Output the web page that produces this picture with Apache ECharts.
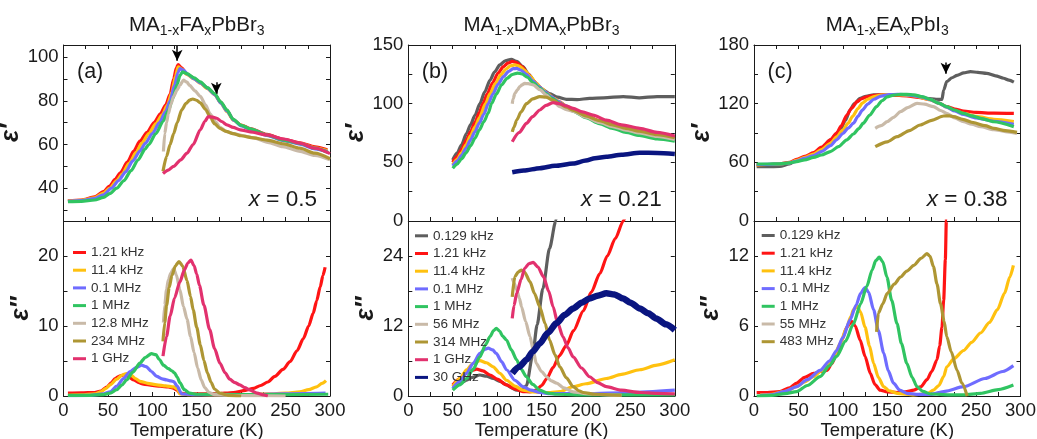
<!DOCTYPE html>
<html><head><meta charset="utf-8">
<script src="https://cdn.jsdelivr.net/npm/echarts@6/dist/echarts.min.js"></script>
<style>html,body{margin:0;padding:0;background:#fff}#c{width:1037px;height:439px}</style>
</head><body><div id="c"></div>
<script>
// ---------------- axes ticks / labels ----------------
const T_TICKS = [0,25,50,75,100,125,150,175,200,225,250,275,300];
const T_LABELS = [0,50,100,150,200,250,300];
const aReTicks = [30,40,50,60,70,80,90,100], aReLabels = [40,60,80,100];
const aImTicks = [0,5,10,15,20,25], aImLabels = [0,10,20];
const bReTicks = [0,25,50,75,100,125,150], bReLabels = [0,50,100,150];
const bImTicks = [0,6,12,18,24,30], bImLabels = [0,12,24];
const cReTicks = [0,30,60,90,120,150,180], cReLabels = [0,60,120,180];
const cImTicks = [0,3,6,9,12,15], cImLabels = [0,6,12];

// ---------------- panel (a) MA1-xFAxPbBr3 ----------------
const aRe_121kHz = [[5,34.2],[20,34.6],[35,36],[45,38.5],[52,41],[58,44],[64,47],[72,52],[79,57],[86,61.5],[94,65.5],[102,70],[109,74],[115,78],[120,83],[124,90],[127,95],[129,96.5],[133,95],[139,92.2],[147,90.2],[154,88.2],[162,85.8],[170,83],[177,79.3],[184,75.5],[191,71.3],[200,68.9],[210,67.3],[229,64.6],[248,62.3],[266,60.8],[283,58.9],[297,57.6]];
const aRe_114kHz = [[5,34.1],[20,34.5],[35,35.6],[45,37.8],[52,40],[60,43.5],[66,46.5],[74,51.5],[82,56.5],[88,60.5],[96,65],[104,69.5],[111,73.5],[117,78],[122,84],[126,91],[129,95.5],[133,94.5],[139,92],[147,90],[154,88],[162,85.5],[170,83],[177,79],[184,75],[192,71],[200,68.8],[210,67],[229,64.3],[248,62],[266,60.5],[283,58.5],[297,57.2]];
const aRe_01MHz = [[5,34],[20,34.3],[35,35.2],[45,37],[54,40],[62,43.5],[70,47.5],[78,52.5],[86,57],[92,60.5],[100,65],[108,70],[115,75],[120,80],[125,87],[129,93],[131,94.7],[135,94],[140,92],[147,90],[154,88.2],[162,85.8],[170,83],[177,79],[184,75.3],[192,71],[200,68.5],[210,67],[229,64.2],[248,61.8],[266,60.2],[283,58],[297,56.8]];
const aRe_1MHz = [[5,33.8],[20,34],[35,34.6],[45,35.8],[52,37.5],[60,40],[68,43.5],[76,48],[84,53],[92,58],[96,60],[104,65],[112,70.5],[118,75.5],[123,81],[128,87.5],[131,91.5],[134,93.2],[139,92.4],[147,90.5],[154,88.6],[162,86],[170,83.3],[177,79.5],[184,75.8],[191,71.5],[200,68.8],[210,67.2],[229,64.4],[248,62],[266,60.5],[283,58.3],[298,56.3]];
const aRe_128MHz = [[112.5,56.8],[114,65],[116,70],[118,74],[121,78.5],[124,82],[128,85],[131,87],[135,89.4],[139,88.5],[142,87],[148,84.5],[154,82],[160,78],[165,74],[171,70.5],[176,68],[183,66],[191,65],[202,64],[214,63],[230,61],[247,59],[265,57],[283,55],[300,53]];
const aRe_234MHz = [[112,47.7],[116,54.5],[120,60],[124,65],[128,70],[133,75.8],[138,78.8],[142,80.3],[145.5,80.8],[150,80.2],[154,79],[160,76],[165,72.7],[170,69.5],[176,67.4],[183,66],[191,65],[200,64],[214,63],[229,62],[248,60.3],[266,58.3],[283,56],[300,53.5]];
const aRe_1GHz = [[112,46.7],[118,48.3],[124,50],[132,53],[139,56],[146,60],[154,66.7],[159,70.5],[163,72.7],[168,72.5],[172.5,72],[178,70.5],[184,69],[191,67.8],[199,66.7],[210,65.8],[229,64.4],[248,62.5],[266,60.6],[283,58.3],[300,55.8]];

const aIm_121kHz = [[5,0.4],[20,0.45],[35,0.5],[42,0.7],[49,1.3],[54,1.9],[58,2.5],[63,2.85],[67.5,3.0],[72,2.85],[79,2.3],[85,1.9],[90,1.7],[100,1.5],[109,1.4],[118,1.3],[124,1.1],[128,0.8],[131,0.4],[140,0.3],[160,0.3],[172,0.3],[191,0.5],[205,0.8],[214,1.1],[222,1.5],[230,2.0],[238,2.8],[247,3.8],[255,4.9],[263,6.5],[270,8.2],[276,10],[281,11.8],[285,13.6],[289,15.6],[292,17.2],[294.5,18.4]];
const aIm_114kHz = [[5,0.1],[20,0.15],[35,0.3],[42,0.6],[48,1.1],[52.5,1.6],[60,2.4],[66,3.0],[71,3.2],[76,3.0],[81,2.5],[86,2.1],[95,1.8],[105,1.6],[115,1.45],[124,1.3],[128,1.0],[131,0.3],[140,0.2],[170,0.15],[200,0.2],[230,0.3],[250,0.4],[266,0.6],[276,0.9],[285,1.3],[291,1.8],[295.5,2.2]];
const aIm_01MHz = [[5,0.05],[30,0.1],[45,0.3],[52.5,0.6],[60,1.4],[67.5,2.5],[75,3.5],[82,4.1],[88,4.4],[93,4.2],[99,3.5],[105,2.8],[111,2.45],[116,2.3],[121,2.15],[124,2.05],[128,1.4],[133,0.3],[145,0.2],[200,0.2],[250,0.3],[295,0.4]];
const aIm_1MHz = [[5,0.1],[30,0.1],[45,0.2],[52.5,0.4],[60,0.9],[66,1.6],[71,2.3],[78,3.4],[86,4.7],[92,5.5],[99,6.05],[104,5.9],[108,5.2],[112.5,4.4],[118,3.9],[122,3.6],[125,3.3],[128,2.7],[131,1.9],[136,0.9],[142,0.4],[150,0.25],[200,0.2],[250,0.2],[298,0.25]];
const aIm_128MHz = [[112.5,10.5],[114,13],[116,15.2],[118,16.6],[121,17.6],[124,18.2],[127,17.3],[131,15.2],[135,12.8],[139,11],[143,8.5],[147,6.2],[151,4.0],[155,2.3],[159,1.2],[164,0.5],[170,0.2],[185,0.1],[210,0.05],[250,0]];
const aIm_234MHz = [[112,7.8],[114,10.5],[116,12.9],[119,15.5],[122,17.2],[126,18.6],[130,19.2],[134,18.6],[139,16.5],[143,14.2],[146,12.3],[150,9.8],[154,7.3],[158,5.1],[162,3.3],[166,2.0],[170,1.0],[176,0.4],[185,0.1],[200,0]];
const aIm_1GHz = [[112,5.7],[116,8.5],[120,11.4],[125,14],[131,16.3],[136,18],[140,19],[143.5,19.4],[147,18.6],[150,17.4],[153,15.8],[158,13],[164.5,9.5],[170,6.8],[176,4.7],[182,3.3],[187,2.4],[193,1.9],[198.5,1.6],[204,1.2],[210,0.85],[218,0.4],[225,0.15],[230,0]];

// ---------------- panel (b) MA1-xDMAxPbBr3 ----------------
const bRe_0129kHz = [[50,52],[55,58],[60,65],[65.6,74.7],[70,82],[75,90],[80.6,100],[86,110],[92,120],[97,127],[103,133],[109,136.5],[116,137.8],[122,136],[129,131.5],[136,124.5],[144,117],[151,112],[159,108.5],[168,105.5],[178,103.7],[190,103.5],[204,104.5],[220,105],[242,106],[260,105],[280,106],[300,106]];
const bRe_121kHz = [[50,50],[55,55],[60,61],[65,68.5],[70,76],[75,84],[80,92.5],[84,100],[89,108.5],[95,118],[101,126],[107,131.5],[112,134.5],[117,136],[122,135],[128,131.5],[134,126],[141,119.5],[148,114],[155,109.5],[163,105],[170,101.5],[178,98],[186,94.6],[200,90],[215,85.5],[230,82],[245,79],[260,76.5],[280,73.5],[300,71]];
const bRe_114kHz = [[50,48],[55,52.5],[60,58],[65,65],[70,72.5],[75,80],[80,88],[87,100],[92,108.5],[98,117],[104,124.5],[110,129.5],[115,132.3],[120,133],[125,132],[131,128.5],[137,123.5],[144,117.5],[150,113],[157,108.5],[164,104.5],[171,101],[178,97.8],[186,94.3],[200,89.5],[215,85],[230,81.5],[245,78.5],[260,76],[280,73],[300,70.5]];
const bRe_01MHz = [[50,47],[55,51],[60,56],[65,62],[70,69],[75,76],[80,83.5],[85,91],[90,100],[95,108],[101,116.5],[107,123],[113,127.5],[118,129.8],[122,130],[127,128.5],[133,125],[140,119.5],[147,114.5],[154,110],[161,106],[168,102.2],[176,98.5],[186,94],[200,89],[215,84.5],[230,81],[245,78],[260,75.5],[280,72.5],[300,69.8]];
const bRe_1MHz = [[50,45],[55,48.5],[60,53],[65,58],[70,64],[75,70.5],[80,77.5],[85,84.5],[90,92],[93.7,100],[99,108],[105,116],[111,121.5],[117,124.8],[123,126],[128,125.3],[134,122.5],[141,117.5],[148,113],[155,108.5],[162,104.5],[170,100.5],[178,97],[186,93.5],[200,88],[215,83],[230,79],[245,75.5],[260,73],[280,70],[300,68]];
const bRe_56MHz = [[117,100],[118,104],[120,108.8],[123,112],[125.6,114.5],[128,116],[131,117.3],[135,117],[140.6,116],[148,112],[155.6,107.4],[163,102],[170.6,97.4],[178,95],[186,93.5],[200,88.5],[215,84],[230,80.5],[245,77.5],[260,75],[280,72],[300,69.5]];
const bRe_314MHz = [[117,76],[119,80],[122,86],[127,93],[133,100],[140,104],[148,106],[155,105.5],[163,103],[170,100],[178,97],[186,94.3],[200,89.5],[215,85.5],[230,82],[245,79],[260,76.5],[280,73.5],[300,71]];
const bRe_1GHz = [[117,67.6],[125,75.5],[133,83.2],[140,89],[148,94.6],[155,98.5],[163,100.9],[170,100],[178,98],[185.6,96],[196,93],[208,90.3],[223,86],[240,82],[260.6,79],[280,75.5],[300,72.5]];
const bRe_30GHz = [[117,41.5],[130,43],[148,45],[165,47],[185.6,49],[200,51.5],[210,53.5],[223,54.8],[240,56.5],[260.6,58.2],[280,58],[300,57.1]];

const bIm_0129kHz = [[50,1.6],[55,1.9],[60,2.3],[65.6,2.7],[72,3.2],[80.6,3.6],[88,3.4],[95.6,3.0],[103,2.5],[110.6,1.9],[116,1.4],[122,1.0],[127,1.0],[133,1.8],[140,7],[145,12.2],[151.5,18.4],[159,25.3],[166,30],[170,34]];
const bIm_121kHz = [[50,1.9],[58,3.0],[65.6,3.9],[72,4.4],[77,4.6],[84,4.3],[92,3.6],[100,2.9],[110.6,1.9],[120,1.2],[129,0.75],[137,0.7],[144,1.0],[150,1.8],[156,3.0],[163,4.9],[170,6.9],[178,8.7],[186,11.2],[197,14.6],[206,17.8],[215.6,21],[224,24],[233,27],[242,30],[246,31.5]];
const bIm_114kHz = [[50,1.6],[58,3.0],[65.6,4.5],[73,5.6],[80.6,6.06],[88,5.7],[95.6,5.0],[103,3.9],[110.6,2.7],[120,1.7],[129,1.0],[140,0.7],[150,0.6],[160,0.6],[170.6,0.75],[185.6,1.6],[200,2.1],[223,3.0],[240,3.7],[260.6,4.5],[280,5.3],[300,6.2]];
const bIm_01MHz = [[50,1.3],[58,2.5],[65.6,3.9],[73,5.6],[80.6,7.3],[86,8.0],[90,8.2],[95,7.9],[99,7.3],[105,5.9],[110.6,4.5],[120,2.7],[129,1.6],[138,1.0],[148,0.6],[160,0.4],[200,0.4],[250,0.6],[300,1.0]];
const bIm_1MHz = [[50,1.0],[58,1.9],[65.6,3.0],[73,4.6],[80.6,6.7],[87,8.8],[92,10.2],[96,11.2],[99,11.6],[103,11.1],[106,10.3],[110.6,9.6],[116,7.9],[122,6.2],[127,4.6],[133,3.3],[140,2.0],[148,1.0],[157,0.5],[167,0.3],[200,0.2],[250,0.2],[300,0.2]];
const bIm_56MHz = [[117,20.2],[119,19.4],[122,18.2],[125,16.8],[127.5,15.3],[132,12.8],[137,10.2],[141,7.6],[144,5.6],[150,4.2],[155.6,3.3],[161,2.6],[167,2.2],[175,1.4],[185.6,0.7],[200,0.4],[223,0.2],[240,0.1]];
const bIm_314MHz = [[117,17],[120,20.5],[124,21.3],[127.5,21.6],[131,21.2],[137,19.6],[142,17.6],[148,15.3],[154,12.4],[159,9.6],[165,7.1],[170.6,5.0],[178,3.1],[185.6,1.6],[192,0.9],[197,0.6],[210,0.3],[240,0.1]];
const bIm_1GHz = [[117,13.3],[119,15.5],[122,17.6],[127,20],[131,21.9],[136,22.7],[140.6,22.9],[146,22.1],[152,20.5],[158,18],[163,15.3],[168,12.6],[174,10.2],[180,8.2],[185.6,6.7],[195,4.8],[204,3.3],[213,2.3],[223,1.6],[240,1.0],[260.6,0.6],[280,0.45],[300,0.35]];
const bIm_30GHz = [[117,3.9],[125,5.0],[133,6.2],[140,7.6],[148,9.0],[157,10.8],[167,12.5],[176,13.9],[185.6,15.0],[195,16],[204,16.7],[213,17.2],[223,17.6],[232,17.4],[242,16.7],[250,16],[260.6,15.0],[270,14.2],[279,13.3],[290,12.3],[300,11.3]];

// ---------------- panel (c) MA1-xEAxPbI3 ----------------
const cRe_0129kHz = [[3,55.6],[15,55.5],[29,55.8],[40,58.5],[48,62.4],[57,64.5],[67,67.5],[76,73.5],[86,83],[92,88],[97,93],[103,103],[108,113.5],[113,120],[119.5,125.5],[126,127.5],[134.6,129],[150,129],[165,128.5],[172,129],[185,127.5],[194.7,125.5],[205,124.5],[211.6,124.4],[213.5,134],[217,142.5],[223,146.5],[228.6,149],[236,151.5],[243.6,152.7],[252,152],[262,151],[272,148.5],[281,146],[287,144],[292.5,142]];
const cRe_121kHz = [[3,57.3],[15,57.8],[29,58.3],[40,60],[48,63],[57,66],[67,70],[76,75.5],[86,83],[93,90],[98,97],[104.5,108.4],[110,115.5],[116,122],[121,125],[127,127],[135,128.5],[142,129],[155,128.8],[172,128],[185,126.5],[198.5,124],[208,120.5],[217,117],[226,114.5],[236,112.5],[250,111],[270,110.3],[292.5,110]];
const cRe_114kHz = [[3,57.5],[15,57.8],[29,58.2],[40,59.5],[48,62],[57,65],[67,68.5],[76,73],[86,79.5],[93,86],[100,93],[106,100],[111,107],[117,115],[122,120.5],[128,124.5],[135,127.3],[143,128.8],[152,129.3],[165,129],[180,128],[198.5,124],[208,120.5],[217,116.5],[226,113],[236,110],[250,107],[270,104],[292.5,101.6]];
const cRe_01MHz = [[3,57.8],[15,58],[29,58.3],[40,59.3],[48,61.3],[57,64],[67,67],[76,71],[86,77],[93,83],[100,89.5],[106,95],[112,100],[117,107],[122,113.5],[128,119.5],[135,124.5],[143,127.8],[152,129.2],[162,129.5],[175,128.8],[188,127],[198.5,124.2],[208,120.5],[217,116.5],[226,112.5],[236,109],[250,105.5],[270,102],[292.5,99]];
const cRe_1MHz = [[3,58.3],[15,58.3],[29,58.5],[40,59.5],[48,60.7],[57,62.5],[67,65],[76,67.5],[86,71],[95,76],[104.5,83],[112,89],[118,94.5],[123,100],[130,108],[138,117],[144,123],[150,127],[157,128.8],[165,129.5],[172,129.5],[180,129],[190,127],[198.5,124.4],[208,120.5],[217,117],[226,113.5],[236,110],[245,107.5],[255,105],[270,101.5],[292.5,96.5]];
const cRe_55MHz = [[136.5,94.8],[143,97.5],[150,101.6],[157,106],[165,111.8],[173,116],[183.5,120.3],[192,119.5],[202,117],[210,113],[217,110],[226,105.5],[236,101.6],[245,99],[255,96.5],[270,93.5],[283,91.5],[296,89.6]];
const cRe_483MHz = [[136.5,76],[150,81],[161,86.2],[175,92.5],[187,98.2],[200,103],[213.5,107.4],[220,107.5],[224.8,106.7],[235,104],[247,100.6],[260,97.5],[270,94.8],[283,92.5],[296,90.7]];

const cIm_0129kHz = [];
const cIm_121kHz = [[3,0.3],[15,0.3],[29,0.37],[40,0.7],[48,1.1],[57,1.6],[67,1.94],[75,2.1],[82,2.2],[88,2.8],[93,3.7],[99,4.8],[104.5,5.9],[110,6.4],[114,6.0],[119.5,4.8],[125,3.4],[131,1.94],[136,1.0],[142,0.5],[150,0.35],[161,0.3],[170,0.35],[180,0.5],[188,0.8],[194.7,1.4],[200,2.1],[206,3.1],[209,4.3],[211.6,5.9],[213.5,8.2],[215.4,11.7],[216.5,15],[218,19]];
const cIm_114kHz = [[7,0.1],[20,0.15],[35,0.4],[48,0.8],[57,1.2],[67,1.66],[75,2.1],[82,2.5],[90,3.4],[97,4.5],[104,5.8],[109,6.8],[112,7.4],[116,7.7],[120,7.2],[125,5.9],[130,4.3],[134.6,2.8],[140,1.6],[146,0.8],[152,0.45],[161,0.23],[180,0.1],[195,0.2],[202,0.5],[208,0.9],[213.5,1.66],[217,2.5],[225,3.2],[236,3.9],[245,4.6],[255,5.4],[265,6.3],[274,7.4],[282,8.8],[288,10.2],[292,11.2]];
const cIm_01MHz = [[7,0.06],[20,0.1],[35,0.4],[48,0.8],[60,1.4],[74.4,2.2],[85,3.0],[93,3.9],[100,5.0],[108,6.5],[115,7.8],[120,8.8],[125,9.3],[129,8.9],[134.6,7.4],[140,5.6],[146,3.7],[151,2.2],[157,1.1],[164,0.5],[172,0.23],[185,0.14],[198.5,0.14],[215,0.4],[236,0.8],[260,1.5],[280,2.1],[292,2.6]];
const cIm_1MHz = [[3,0],[20,0.05],[35,0.2],[48,0.37],[60,0.9],[74.4,1.66],[85,2.6],[93,3.4],[103,4.7],[112,6.2],[120,7.9],[127,9.4],[133,10.8],[137,11.6],[141,11.9],[145,11.5],[149.6,10.2],[155,8.2],[161,6.2],[166,4.5],[172,2.8],[178,1.6],[183.5,0.8],[190,0.4],[198.5,0.17],[220,0.1],[236,0.1],[255,0.23],[275,0.55],[292,0.94]];
const cIm_55MHz = [];
const cIm_483MHz = [[138,5.5],[140,7.1],[145,7.9],[150,8.8],[158,9.6],[165,10.2],[172,10.7],[180,11.2],[188,11.8],[194.7,12.2],[198,12.0],[202,11.1],[206,9.6],[210,7.9],[214,6.4],[217,5.1],[222,3.8],[228.6,2.2],[234,1.1],[240,0]];

// arrows: [T, from, to] on the ε′ panels
const aArrows = [[128,105,98.3],[172,88.5,83.2]];
const cArrows = [[216,162,150.5]];

// ---------------- build option ----------------
const FONT = "'Liberation Sans', Arial, Helvetica, sans-serif";
const INK = '#1a1a1a';
const COL = {g:'#5e5e5e', r:'#ff1414', y:'#ffc10f', b:'#6f6cff', gr:'#30c461', be:'#c9baa8', ol:'#ae9634', pk:'#e2316e', nv:'#0a1580'};

const panels = [
  {key:'a', left:63.5, title:'{n|MA}{s|1-x}{n|FA}{s|x}{n|PbBr}{s|3}', letter:'(a)', xval:'0.5',
   re:{min:25,max:105.5,ticks:aReTicks,labels:aReLabels}, im:{min:0,max:25,ticks:aImTicks,labels:aImLabels},
   legendTop:245.5, legendLeft:73, arrows:aArrows,
   curves:[
    ['1.21 kHz','r',aRe_121kHz,aIm_121kHz],['11.4 kHz','y',aRe_114kHz,aIm_114kHz],['0.1 MHz','b',aRe_01MHz,aIm_01MHz],
    ['1 MHz','gr',aRe_1MHz,aIm_1MHz],['12.8 MHz','be',aRe_128MHz,aIm_128MHz],['234 MHz','ol',aRe_234MHz,aIm_234MHz],['1 GHz','pk',aRe_1GHz,aIm_1GHz]]},
  {key:'b', left:408.3, title:'{n|MA}{s|1-x}{n|DMA}{s|x}{n|PbBr}{s|3}', letter:'(b)', xval:'0.21',
   re:{min:0,max:150,ticks:bReTicks,labels:bReLabels}, im:{min:0,max:30,ticks:bImTicks,labels:bImLabels},
   legendTop:228.8, legendLeft:415, arrows:[],
   curves:[
    ['0.129 kHz','g',bRe_0129kHz,bIm_0129kHz],['1.21 kHz','r',bRe_121kHz,bIm_121kHz],['11.4 kHz','y',bRe_114kHz,bIm_114kHz],
    ['0.1 MHz','b',bRe_01MHz,bIm_01MHz],['1 MHz','gr',bRe_1MHz,bIm_1MHz],['56 MHz','be',bRe_56MHz,bIm_56MHz],
    ['314 MHz','ol',bRe_314MHz,bIm_314MHz],['1 GHz','pk',bRe_1GHz,bIm_1GHz],['30 GHz','nv',bRe_30GHz,bIm_30GHz]]},
  {key:'c', left:754, title:'{n|MA}{s|1-x}{n|EA}{s|x}{n|PbI}{s|3}', letter:'(c)', xval:'0.38',
   re:{min:0,max:180,ticks:cReTicks,labels:cReLabels}, im:{min:0,max:15,ticks:cImTicks,labels:cImLabels},
   legendTop:228.5, legendLeft:761.7, arrows:cArrows,
   curves:[
    ['0.129 kHz','g',cRe_0129kHz,cIm_0129kHz],['1.21 kHz','r',cRe_121kHz,cIm_121kHz],['11.4 kHz','y',cRe_114kHz,cIm_114kHz],
    ['0.1 MHz','b',cRe_01MHz,cIm_01MHz],['1 MHz','gr',cRe_1MHz,cIm_1MHz],['55 MHz','be',cRe_55MHz,cIm_55MHz],['483 MHz','ol',cRe_483MHz,cIm_483MHz]]}
];

const TOP = 45, MID = 221, BOT = 396, W = 266.5;
const grid = [], xAxis = [], yAxis = [], series = [], legend = [], graphic = [];

function xAx(g, pos, labels) {
  return {type:'value', gridIndex:g, position:pos, min:0, max:300,
    axisLine:{show:true, onZero:false, lineStyle:{color:INK, width:1}},
    axisTick:{show:true, inside:true, length:4, customValues:T_TICKS, lineStyle:{color:INK, width:1}},
    axisLabel:{show:labels, customValues:T_LABELS, fontSize:18.5, color:INK, fontFamily:FONT, margin:5},
    splitLine:{show:false},
    name: labels ? 'Temperature (K)' : '', nameLocation:'middle', nameGap:25,
    nameTextStyle:{fontSize:18.5, color:INK, fontFamily:FONT}};
}
function yAx(g, pos, r, name) {
  return {type:'value', gridIndex:g, position:pos, min:r.min, max:r.max,
    axisLine:{show:true, onZero:false, lineStyle:{color:INK, width:1}},
    axisTick:{show:true, inside:true, length:4, customValues:r.ticks, lineStyle:{color:INK, width:1}},
    axisLabel:{show:pos==='left', customValues:r.labels, fontSize:18.5, color:INK, fontFamily:FONT, margin:5},
    splitLine:{show:false},
    name: name || '', nameLocation:'middle', nameRotate:90, nameGap:30,
    nameTextStyle:{fontSize:25, fontStyle:'italic', fontWeight:'bold', color:INK, fontFamily:FONT}};
}
function line(name, color, data, xi, yi, width) {
  return {type:'line', name, data, xAxisIndex:xi, yAxisIndex:yi, showSymbol:false, symbol:'none',
    smooth:0.25, smoothMonotone:'x', clip:true, silent:true,
    lineStyle:{color, width}, itemStyle:{color}, emphasis:{disabled:true}};
}

panels.forEach(p => {
  const gTop = grid.length; grid.push({left:p.left, top:TOP, width:W, height:MID-TOP, containLabel:false, outerBoundsMode:'none'});
  const gBot = grid.length; grid.push({left:p.left, top:MID, width:W, height:BOT-MID, containLabel:false, outerBoundsMode:'none'});
  const xT = xAxis.length; xAxis.push(xAx(gTop,'bottom',false)); xAxis.push(xAx(gTop,'top',false));
  const xB = xAxis.length; xAxis.push(xAx(gBot,'bottom',true));
  const yT = yAxis.length; yAxis.push(yAx(gTop,'left',p.re,'ε′')); yAxis.push(yAx(gTop,'right',p.re));
  const yB = yAxis.length; yAxis.push(yAx(gBot,'left',p.im,'ε″')); yAxis.push(yAx(gBot,'right',p.im));
  p.curves.forEach((c, i) => {
    const nm = p.key + '|' + c[0];
    const col = COL[c[1]];
    const wTop = c[1]==='nv' ? 4.5 : 3.2;
    const wBot = c[1]==='nv' ? 6.5 : 3.2;
    const sTop = line(nm, col, c[2], xT, yT, wTop);
    if (i === 0 && p.arrows.length) {
      sTop.markLine = {silent:true, symbol:['none','arrow'], symbolSize:[8,11], animation:false,
        lineStyle:{color:'#000', width:1.5, type:'solid'}, label:{show:false},
        data: p.arrows.map(a => [{coord:[a[0],a[1]]},{coord:[a[0],a[2]]}])};
    }
    series.push(sTop);
    series.push(line(nm, col, c[3], xB, yB, wBot));
  });
  legend.push({orient:'vertical', left:p.legendLeft, top:p.legendTop, padding:0, itemGap:3.7,
    itemWidth:13, itemHeight:3, icon:'rect', selectedMode:false,
    data:p.curves.map(c => p.key + '|' + c[0]),
    formatter: n => n.split('|')[1],
    textStyle:{fontSize:13.5, color:'#333', fontFamily:FONT}});
  const cx = p.left + W/2;
  graphic.push({type:'text', x:cx, y:25, silent:true, style:{text:p.title, textAlign:'center', textVerticalAlign:'middle',
    fontSize:20.5, fontFamily:FONT, fill:INK,
    rich:{n:{fontSize:20.5, fontFamily:FONT, fill:INK, lineHeight:27},
          s:{fontSize:14, fontFamily:FONT, fill:INK, lineHeight:14, verticalAlign:'bottom'}}}});
  graphic.push({type:'text', x:p.left + 13.5, y:72, silent:true, style:{text:p.letter, textAlign:'left', textVerticalAlign:'middle',
    fontSize:21.5, fontFamily:FONT, fill:INK}});
  graphic.push({type:'text', x:p.left + W - 13, y:200, silent:true, style:{text:'{i|x} = ' + p.xval, textAlign:'right', textVerticalAlign:'middle',
    fontSize:22.5, fontFamily:FONT, fill:INK,
    rich:{i:{fontSize:22.5, fontFamily:FONT, fontStyle:'italic', fill:INK}}}});
});

const chart = echarts.init(document.getElementById('c'), null, {renderer:'canvas'});
chart.setOption({animation:false, backgroundColor:'#fff', grid, xAxis, yAxis, series, legend, graphic, tooltip:{show:false}});
</script></body></html>
